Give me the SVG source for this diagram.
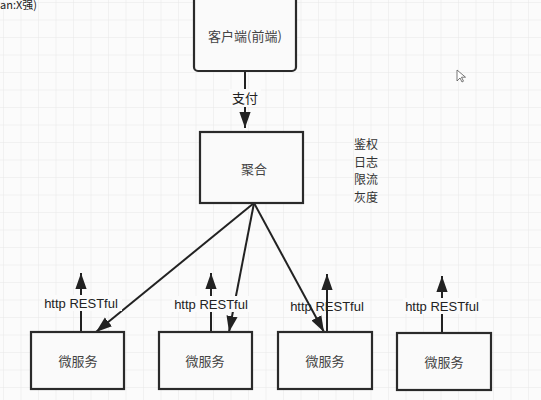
<svg xmlns="http://www.w3.org/2000/svg" width="541" height="400" viewBox="0 0 541 400">
<defs>
<pattern id="grid" width="17.5" height="17.5" patternUnits="userSpaceOnUse" x="4" y="3">
<path d="M17.5 0V17.5M0 17.5H17.5" fill="none" stroke="#e8e8e8" stroke-width="1"/>
</pattern>
<marker id="big" viewBox="0 0 10 10" refX="10" refY="5" markerWidth="16" markerHeight="16" markerUnits="userSpaceOnUse" orient="auto">
<path d="M0 1.5L10 5L0 8.5Z" fill="#222"/>
</marker>
</defs>
<style>
.box{fill:#fafafa;stroke:#2a2a2a;stroke-width:2.2}
.t{font-family:"Noto Sans CJK SC","Liberation Sans",sans-serif;font-size:13px;fill:#444;text-anchor:middle}
.s{font-family:"Noto Sans CJK SC",sans-serif;font-size:12px;fill:#333;text-anchor:middle}
.l{font-family:"Liberation Sans","Noto Sans CJK SC",sans-serif;font-size:13px;fill:#222;text-anchor:middle}
.c{stroke:#222;stroke-width:2;fill:none}
</style>
<rect width="541" height="400" fill="#fbfbfb"/>
<rect width="541" height="400" fill="url(#grid)"/>
<text x="0" y="9" font-family="Noto Sans CJK SC,sans-serif" font-size="11" fill="#222">an:X强)</text>
<g id="connectors">
<line class="c" x1="245" y1="71" x2="245" y2="128" marker-end="url(#big)"/>
<line class="c" x1="254" y1="203" x2="96" y2="332" marker-end="url(#big)"/>
<line class="c" x1="254" y1="203" x2="229" y2="332" marker-end="url(#big)"/>
<line class="c" x1="254" y1="203" x2="324" y2="332" marker-end="url(#big)"/>
<line class="c" x1="81" y1="332" x2="81" y2="273" marker-end="url(#big)"/>
<line class="c" x1="211" y1="332" x2="211" y2="273" marker-end="url(#big)"/>
<line class="c" x1="327" y1="332" x2="327" y2="274" marker-end="url(#big)"/>
<line class="c" x1="442" y1="333" x2="442" y2="276" marker-end="url(#big)"/>
</g>
<g id="labels">
<rect x="229" y="89" width="32" height="18" fill="#fbfbfb"/>
<text class="t" x="245" y="103" style="fill:#222">支付</text>
<text class="s" x="366" y="149">鉴权</text>
<text class="s" x="366" y="166.5">日志</text>
<text class="s" x="366" y="184">限流</text>
<text class="s" x="366" y="201.5">灰度</text>
<rect x="42" y="295" width="80" height="16" fill="#fbfbfb"/>
<text class="l" x="81" y="308">http RESTful</text>
<rect x="172" y="296" width="78" height="16" fill="#fbfbfb"/>
<text class="l" x="211" y="309">http RESTful</text>
<text class="l" x="327" y="311">http RESTful</text>
<rect x="403" y="298" width="79" height="16" fill="#fbfbfb"/>
<text class="l" x="442" y="311">http RESTful</text>
</g>
<g id="client">
<rect class="box" x="194" y="-4" width="102" height="75" rx="4"/>
<text class="t" x="245" y="41">客户端(前端)</text>
</g>
<g id="aggregate">
<rect class="box" x="200" y="132" width="103" height="71"/>
<text class="t" x="254" y="174">聚合</text>
</g>
<g id="svc1">
<rect class="box" x="31" y="332" width="93" height="57"/>
<text class="t" x="78" y="366">微服务</text>
</g>
<g id="svc2">
<rect class="box" x="159" y="332" width="93" height="57"/>
<text class="t" x="205" y="366">微服务</text>
</g>
<g id="svc3">
<rect class="box" x="278" y="332" width="94" height="57"/>
<text class="t" x="325" y="366">微服务</text>
</g>
<g id="svc4">
<rect class="box" x="397" y="333" width="94" height="57"/>
<text class="t" x="444" y="367">微服务</text>
</g>
<path d="M457 70v11l3-3 2 4 1.5-.8-2-4h4z" fill="#fff" stroke="#555" stroke-width="0.8"/>
</svg>
